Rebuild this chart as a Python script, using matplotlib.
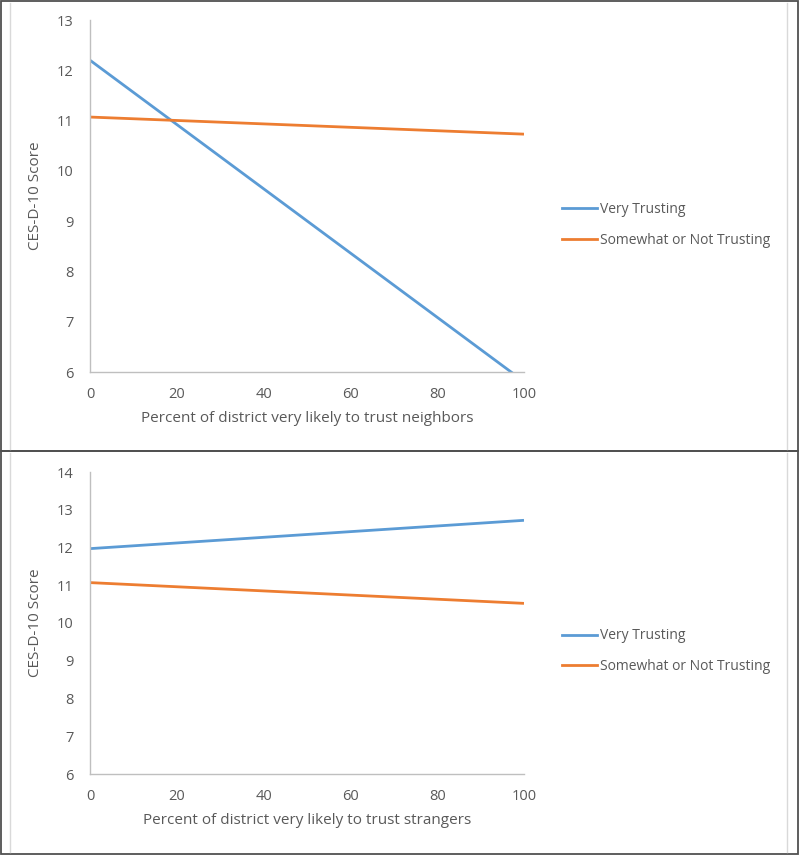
import matplotlib
matplotlib.use("Agg")
import matplotlib.pyplot as plt
from matplotlib.patches import Rectangle
from matplotlib.lines import Line2D

plt.rcParams['font.family'] = ['Open Sans', 'DejaVu Sans']

x_vals = [0, 100]
top_very = [12.2, 5.81]
top_somewhat = [11.07, 10.73]
bot_very = [11.97, 12.72]
bot_somewhat = [11.07, 10.52]
series_names = ["Very Trusting", "Somewhat or Not Trusting"]
x_ticks = [0, 20, 40, 60, 80, 100]
top_yticks = [6, 7, 8, 9, 10, 11, 12, 13]
bot_yticks = [6, 7, 8, 9, 10, 11, 12, 13, 14]
top_xlabel = "Percent of district very likely to trust neighbors"
bot_xlabel = "Percent of district very likely to trust strangers"
ylabel = "CES-D-10 Score"

BLUE = "#5B9BD5"
ORANGE = "#ED7D31"
GRAY_TXT = "#595959"
SPINE = "#bfbfbf"

W, H = 800, 856
fig = plt.figure(figsize=(W/100, H/100), dpi=100)

def px_axes(x0, y0, x1, y1):
    return fig.add_axes([x0/W, 1 - y1/H, (x1-x0)/W, (y1-y0)/H])

# panel borders
for (py0, py1) in [(1, 451), (451, 854)]:
    fig.patches.append(Rectangle((1/W, 1 - py1/H), 797/W, (py1-py0)/H,
                                 transform=fig.transFigure, fill=False,
                                 edgecolor="#505050", linewidth=1.3))
    for xx in (10, 787):
        fig.lines.append(Line2D([xx/W, xx/W], [1 - (py1-2)/H, 1 - (py0+2)/H],
                                transform=fig.transFigure, color="#d9d9d9", linewidth=1))

def style(ax, yticks, ylim, xlabel):
    ax.set_xlim(0, 100)
    ax.set_ylim(*ylim)
    ax.set_xticks(x_ticks)
    ax.set_yticks(yticks)
    for s in ("top", "right"):
        ax.spines[s].set_visible(False)
    for s in ("left", "bottom"):
        ax.spines[s].set_color(SPINE)
        ax.spines[s].set_linewidth(1.0)
    ax.tick_params(length=0, colors=GRAY_TXT, labelsize=10.5)
    ax.tick_params(axis='x', pad=11)
    ax.tick_params(axis='y', pad=12)
    ax.set_xlabel(xlabel, color=GRAY_TXT, fontsize=11, labelpad=6)
    ax.set_ylabel(ylabel, color=GRAY_TXT, fontsize=11)
    ax.yaxis.set_label_coords((43 - 90) / 434, 0.5)

def add_legend(ax, cy):
    ax.legend([Line2D([], [], color=BLUE, lw=2), Line2D([], [], color=ORANGE, lw=2)],
              series_names, loc='center left', bbox_to_anchor=(562/W, 1 - cy/H),
              bbox_transform=fig.transFigure, frameon=False, fontsize=10,
              labelcolor=GRAY_TXT, handlelength=2.5, handletextpad=0.2,
              labelspacing=1.1, borderpad=0, borderaxespad=0)

ax1 = px_axes(90, 20, 524, 372)
ax1.plot(x_vals, top_very, color=BLUE, linewidth=2, solid_capstyle='butt')
ax1.plot(x_vals, top_somewhat, color=ORANGE, linewidth=2, solid_capstyle='butt')
style(ax1, top_yticks, (6, 13), top_xlabel)
add_legend(ax1, 225)

ax2 = px_axes(90, 472, 524, 774)
ax2.plot(x_vals, bot_very, color=BLUE, linewidth=2, solid_capstyle='butt')
ax2.plot(x_vals, bot_somewhat, color=ORANGE, linewidth=2, solid_capstyle='butt')
style(ax2, bot_yticks, (6, 14), bot_xlabel)
add_legend(ax2, 651)

fig.savefig("out.png", dpi=100)
